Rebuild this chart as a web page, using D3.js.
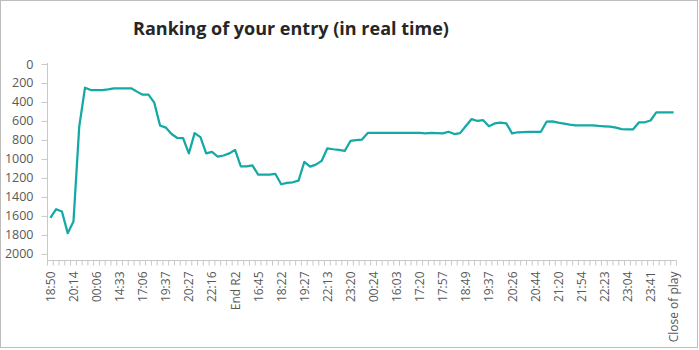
<!DOCTYPE html>
<html>
<head>
<meta charset="utf-8">
<script src="https://cdn.jsdelivr.net/npm/d3@7"></script>
<style>
  html, body { margin: 0; padding: 0; background: #fff; }
  svg { display: block; font-family: "Open Sans", "Noto Sans", sans-serif; }
</style>
</head>
<body>
<svg id="chart" width="699" height="350"></svg>
<script>
// Rank after each update (lower is better), one value per update.
const ranks = [
  1620, 1530, 1554, 1782, 1660, 660, 250, 274, 274, 274,
  267, 256, 256, 256, 256, 291, 323, 323, 407, 648,
  670, 738, 779, 782, 942, 728, 770, 942, 926, 975,
  964, 942, 905, 1078, 1078, 1067, 1165, 1165, 1165, 1158,
  1267, 1253, 1246, 1228, 1032, 1081, 1060, 1021, 888, 898,
  905, 916, 811, 803, 796, 726, 726, 726, 726, 726,
  726, 726, 726, 726, 726, 730, 726, 728, 730, 714,
  738, 728, 653, 580, 600, 592, 656, 626, 618, 625,
  731, 719, 717, 714, 714, 714, 606, 605, 618, 628,
  639, 646, 646, 646, 646, 653, 656, 660, 670, 686,
  688, 688, 614, 614, 595, 509, 509, 509, 509
];

// Time labels shown on the category axis, one every fourth update.
const timeLabels = [
  "18:50", "20:14", "00:06", "14:33", "17:06", "19:37", "20:27", "22:16",
  "End R2", "16:45", "18:22", "19:27", "22:13", "23:20", "00:24", "16:03",
  "17:20", "17:57", "18:49", "19:37", "20:26", "20:44", "21:20", "21:54",
  "22:23", "23:04", "23:41", "Close of play"
];
const labelEvery = 4;

// Rank axis ticks.
const rankTicks = [0, 200, 400, 600, 800, 1000, 1200, 1400, 1600, 1800, 2000];

const svg = d3.select("#chart");
const axisColor = "#c8c8c8";
const textColor = "#595959";

// Outer frame
svg.append("rect")
  .attr("x", 0.5).attr("y", 0.5)
  .attr("width", 697).attr("height", 347)
  .attr("fill", "#fff")
  .attr("stroke", "#bdbdbd");

// Title
svg.append("text")
  .attr("x", 291).attr("y", 35)
  .attr("text-anchor", "middle")
  .attr("font-size", 18)
  .attr("font-weight", 700)
  .attr("fill", "#262626")
  .text("Ranking of your entry (in real time)");

const plot = { left: 47.5, right: 676.5, top: 64, bottom: 260.5 };

const x = d3.scaleBand()
  .domain(d3.range(ranks.length))
  .range([plot.left, plot.right])
  .padding(0);

const y = d3.scaleLinear()
  .domain([0, 2070])
  .range([plot.top, plot.bottom]);

// Rank axis (reversed: best rank at top)
const yAxis = svg.append("g")
  .attr("transform", `translate(${plot.left},0)`)
  .call(d3.axisLeft(y)
    .tickValues(rankTicks)
    .tickFormat(d3.format("d"))
    .tickSize(6).tickPadding(8).tickSizeOuter(0));
yAxis.select(".domain").attr("stroke", axisColor).attr("d", `M0,${plot.top - 1}V${plot.bottom}`);
yAxis.selectAll(".tick line").attr("stroke", axisColor);
yAxis.selectAll(".tick text")
  .attr("fill", textColor)
  .attr("font-size", 12.5)
  .attr("font-family", "'Open Sans', 'Noto Sans', sans-serif");

// Category axis: a minor tick at each category boundary
const gx = svg.append("g").attr("transform", `translate(0,${plot.bottom})`);
gx.append("line")
  .attr("x1", plot.left).attr("x2", plot.right)
  .attr("stroke", axisColor);
const boundaries = d3.range(ranks.length + 1).map(i =>
  i < ranks.length ? x(i) : x(ranks.length - 1) + x.bandwidth());
gx.selectAll("line.minor").data(boundaries).join("line")
  .attr("class", "minor")
  .attr("x1", d => d).attr("x2", d => d)
  .attr("y1", 0).attr("y2", 5)
  .attr("stroke", axisColor);

// Rotated time labels, one every fourth category
const labelIdx = timeLabels.map((_, k) => k * labelEvery);
gx.selectAll("text.lbl").data(labelIdx).join("text")
  .attr("class", "lbl")
  .attr("transform", d => `translate(${x(d) + x.bandwidth() / 2 + 4.5},11) rotate(-90)`)
  .attr("text-anchor", "end")
  .attr("font-size", 12)
  .attr("fill", textColor)
  .text((d, k) => timeLabels[k]);

// Rank line
const line = d3.line()
  .x((d, i) => x(i) + x.bandwidth() / 2)
  .y(d => y(d));

svg.append("path")
  .datum(ranks)
  .attr("fill", "none")
  .attr("stroke", "#14a9a5")
  .attr("stroke-width", 2.25)
  .attr("stroke-linejoin", "round")
  .attr("d", line);
</script>
</body>
</html>
